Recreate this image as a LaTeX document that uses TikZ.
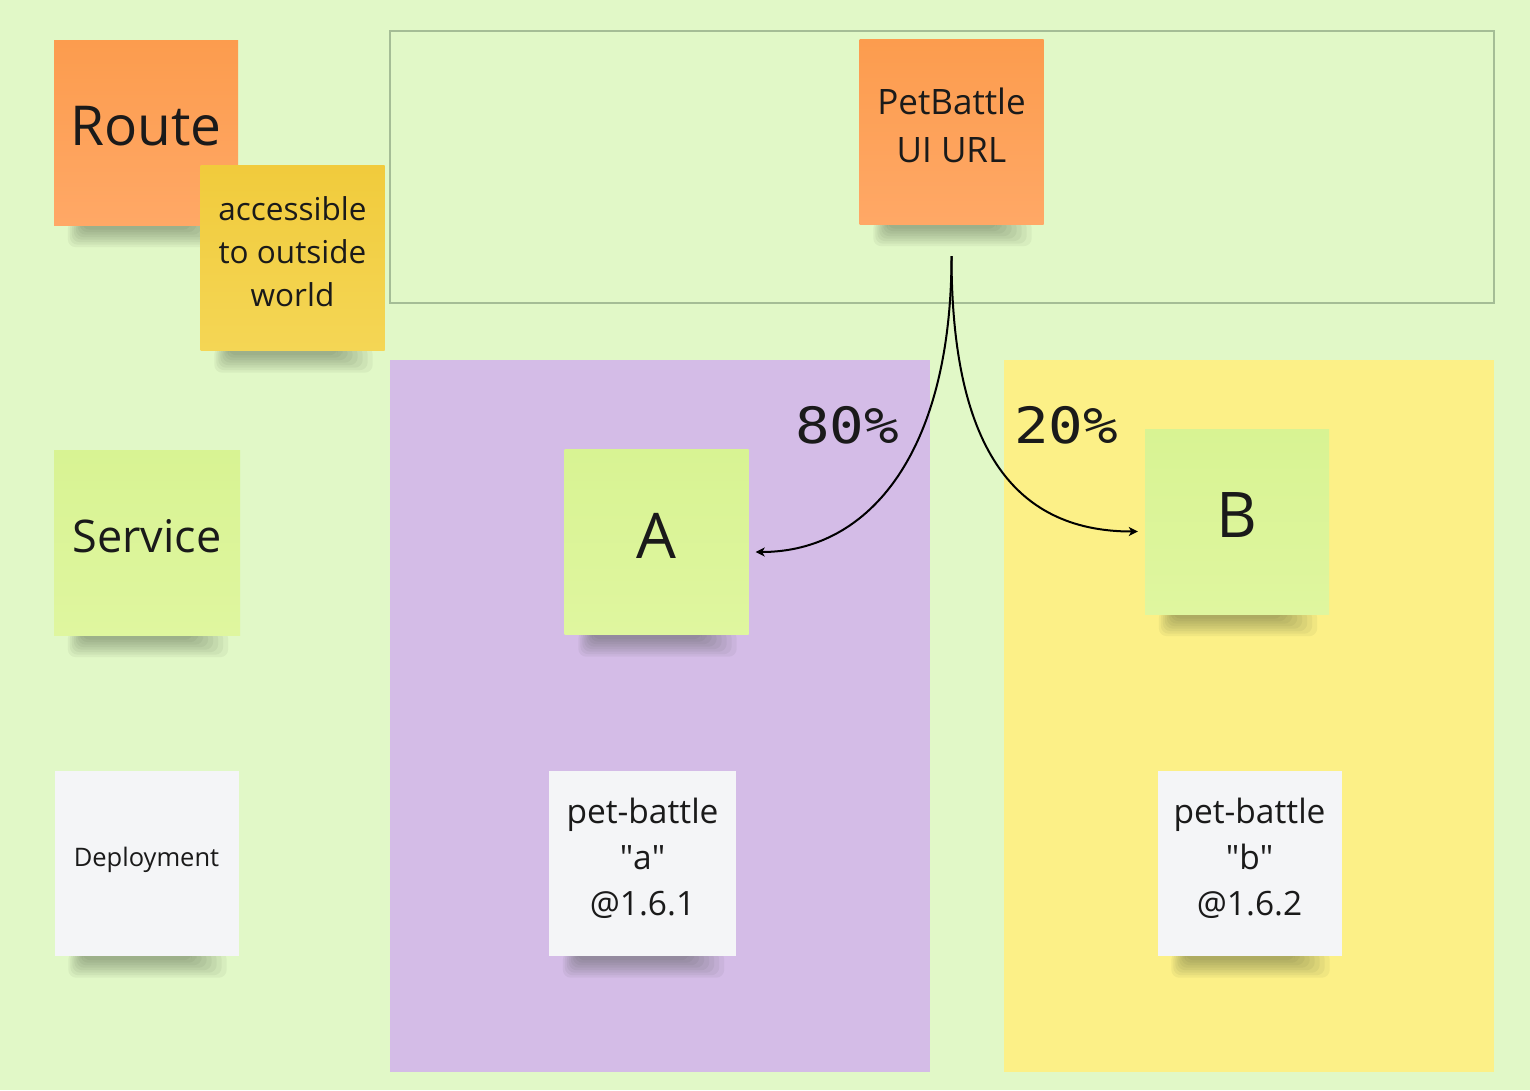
\documentclass[tikz,border=0pt]{standalone}
\usepackage{fontspec}
\setmainfont{Open Sans}
\newfontfamily\pctfont[FakeStretch=1.15]{DejaVu Sans Mono}
\usetikzlibrary{arrows.meta,calc}
\definecolor{cBoard}{HTML}{E1F8C7}
\definecolor{cFrame}{HTML}{A5BD96}
\definecolor{cLaneA}{HTML}{D4BCE7}
\definecolor{cLaneB}{HTML}{FCF087}
\definecolor{cOrangeTop}{HTML}{FC9C4E}
\definecolor{cOrangeBot}{HTML}{FFA866}
\definecolor{cYellowTop}{HTML}{F1CB3C}
\definecolor{cYellowBot}{HTML}{F4D655}
\definecolor{cGreenTop}{HTML}{D8F393}
\definecolor{cGreenBot}{HTML}{DFF69F}
\definecolor{cPaper}{HTML}{F4F5F7}
\definecolor{cInk}{HTML}{1A1A1A}
\definecolor{cShade}{HTML}{2E3A28}
\pgfdeclarelayer{lanes}
\pgfdeclarelayer{shadows}
\pgfsetlayers{lanes,shadows,main}
\tikzset{
  sticky/.style={minimum width=184pt, minimum height=185pt, inner sep=0pt,
    align=center, text=cInk,
    execute at end node={\rule[-13pt]{0pt}{0pt}}},
  orangenote/.style={sticky, top color=cOrangeTop, bottom color=cOrangeBot},
  yellownote/.style={sticky, top color=cYellowTop, bottom color=cYellowBot},
  greennote/.style={sticky, top color=cGreenTop, bottom color=cGreenBot},
  papernote/.style={sticky, fill=cPaper},
  pct/.style={text=cInk, font=\pctfont\fontsize{50}{50}\selectfont},
  flow/.style={-{Stealth[length=9pt, width=9pt, inset=2.5pt]}, line width=2pt, black},
}

\begin{document}
\begin{tikzpicture}[x=1pt, y=-1pt]
% Board and lanes
\begin{pgfonlayer}{lanes}
\fill[cBoard] (0,0) rectangle (1530,1090);
\draw[cFrame, line width=1.2pt] (390,31) rectangle (1494,303);
\fill[cLaneA] (390,360) rectangle (930,1072);
\fill[cLaneB] (1004,360) rectangle (1494,1072);
\end{pgfonlayer}
\useasboundingbox (0,0) rectangle (1530,1090);

% Legend column
\node[orangenote, font=\fontsize{55}{60}\selectfont] (route) at (146,132.5) {Route};
\node[yellownote, font=\fontsize{31.5}{43}\selectfont] (access) at (292.5,258) {accessible\\to outside\\world};
\node[greennote, minimum width=186pt, font=\fontsize{45}{50}\selectfont] (service) at (147,542.5) {Service};
\node[papernote, font=\fontsize{25.5}{30}\selectfont] (deploy) at (146.5,863) {Deployment};

% Route and the two versions
\node[orangenote, font=\fontsize{35}{48}\selectfont] (url) at (951.5,131.5) {PetBattle\\UI URL};
\node[greennote, font=\fontsize{63}{68}\selectfont] (nA) at (656.5,542) {A};
\node[greennote, font=\fontsize{63}{68}\selectfont] (nB) at (1237,521.5) {B};
\node[papernote, minimum width=187pt, font=\fontsize{33.5}{46}\selectfont] (relA) at (642.5,863) {pet-battle\\\textquotedbl a\textquotedbl\\@1.6.1};
\node[papernote, font=\fontsize{33.5}{46}\selectfont] (relB) at (1249.5,863) {pet-battle\\\textquotedbl b\textquotedbl\\@1.6.2};

% Shadows under the notes
\begin{pgfonlayer}{shadows}
\foreach \n in {route,access,service,deploy,url,nA,nB,relA,relB} {
  \foreach \k in {0,...,7}
    \fill[cShade, opacity=0.055, rounded corners=8pt]
      ([xshift=14+2*\k, yshift=4]\n.south west) rectangle ([xshift=-12-5*\k, yshift=-22+2.5*\k]\n.south east);
}
\end{pgfonlayer}

% Traffic split
\coordinate (split) at ([yshift=-32pt]url.south);
\draw[flow] (split) .. controls +(0,194) and +(115,0) .. ([shift={(7,10)}]nA.east);
\draw[flow] (split) .. controls +(0,185) and +(-128,0) .. ([shift={(-7,10)}]nB.west);
\node[pct] (pctA) at (847,425) {80\%};
\node[pct] (pctB) at (1066,425) {20\%};
\end{tikzpicture}
\end{document}
